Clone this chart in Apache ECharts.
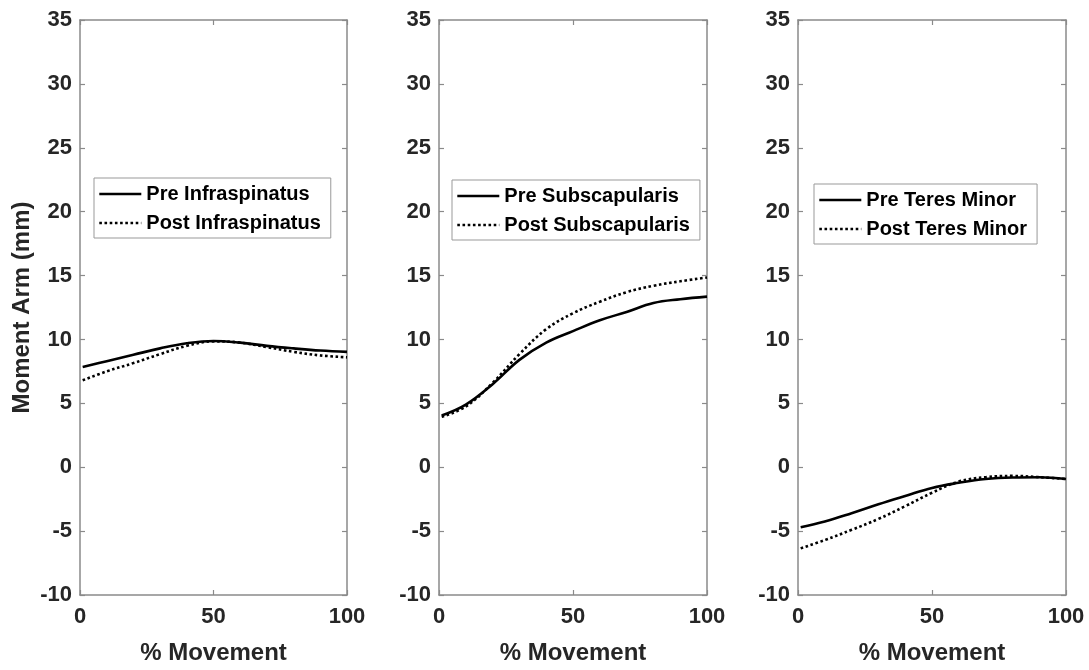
<!DOCTYPE html>
<html>
<head>
<meta charset="utf-8">
<script src="https://cdn.jsdelivr.net/npm/echarts@6/dist/echarts.min.js"></script>
<style>
html,body{margin:0;padding:0;background:#fff;}
#chart{width:1089px;height:670px;}
</style>
</head>
<body>
<div id="chart"></div>
<script>
// ---- data ----
const xMovement = [1, 10, 20, 30, 40, 50, 60, 70, 80, 90, 100];
const preInfraspinatus  = [7.85, 8.3, 8.8, 9.3, 9.7, 9.88, 9.75, 9.5, 9.3, 9.13, 9.03];
const postInfraspinatus = [6.8, 7.5, 8.15, 8.85, 9.5, 9.85, 9.75, 9.4, 9.03, 8.75, 8.6];
const preSubscapularis  = [4.05, 4.9, 6.5, 8.4, 9.75, 10.65, 11.5, 12.15, 12.85, 13.15, 13.35];
const postSubscapularis = [3.95, 4.75, 6.6, 8.85, 10.8, 12.05, 12.95, 13.7, 14.2, 14.55, 14.85];
const preTeresMinor     = [-4.7, -4.25, -3.6, -2.9, -2.25, -1.62, -1.22, -0.92, -0.8, -0.78, -0.92];
const postTeresMinor    = [-6.35, -5.7, -4.9, -4.05, -3.05, -2.0, -1.12, -0.78, -0.68, -0.78, -0.92];
const panelNames = [
  ['Pre Infraspinatus', 'Post Infraspinatus'],
  ['Pre Subscapularis', 'Post Subscapularis'],
  ['Pre Teres Minor', 'Post Teres Minor']
];
const panelData = [
  [preInfraspinatus, postInfraspinatus],
  [preSubscapularis, postSubscapularis],
  [preTeresMinor, postTeresMinor]
];
const xLabel = '% Movement';
const yLabel = 'Moment Arm (mm)';
const xRange = [0, 100, 50];
const yRange = [-10, 35, 5];

// ---- layout / style ----
const FONT = "'Liberation Sans', Arial, sans-serif";
const AX = '#8a8a8a';
const TXT = '#262626';
const gridLeft = [80, 439, 798];
const gridWidth = [267, 268, 268];
const legendPos = [[94, 178], [452, 180], [814, 184]];

const grids = [], xAxes = [], yAxes = [], series = [], legends = [];
for (let i = 0; i < 3; i++) {
  grids.push({left: gridLeft[i], top: 20, width: gridWidth[i], height: 581, show: false});
  const common = {
    type: 'value', gridIndex: i, splitLine: {show: false},
    axisLine: {show: true, onZero: false, lineStyle: {color: AX, width: 1.5}},
    axisTick: {show: true, inside: true, length: 5, lineStyle: {color: AX, width: 1.2}}
  };
  xAxes.push(Object.assign({}, common, {
    position: 'bottom', min: xRange[0], max: xRange[1], interval: xRange[2],
    axisLabel: {fontFamily: FONT, fontWeight: 'bold', fontSize: 22, color: TXT, margin: 11},
    name: xLabel, nameLocation: 'middle', nameGap: 46,
    nameTextStyle: {fontFamily: FONT, fontWeight: 'bold', fontSize: 24, color: TXT}
  }));
  xAxes.push(Object.assign({}, common, {
    position: 'top', min: xRange[0], max: xRange[1], interval: xRange[2],
    axisLabel: {show: false}
  }));
  const yLeft = Object.assign({}, common, {
    position: 'left', min: yRange[0], max: yRange[1], interval: yRange[2],
    axisLabel: {fontFamily: FONT, fontWeight: 'bold', fontSize: 22, color: TXT, margin: 8}
  });
  if (i === 0) {
    yLeft.name = yLabel;
    yLeft.nameLocation = 'middle';
    yLeft.nameGap = 46;
    yLeft.nameTextStyle = {fontFamily: FONT, fontWeight: 'bold', fontSize: 24, color: TXT};
  }
  yAxes.push(yLeft);
  yAxes.push(Object.assign({}, common, {
    position: 'right', min: yRange[0], max: yRange[1], interval: yRange[2],
    axisLabel: {show: false}
  }));
  const types = ['solid', 'dotted'];
  for (let k = 0; k < 2; k++) {
    series.push({
      type: 'line', name: panelNames[i][k], xAxisIndex: 2 * i, yAxisIndex: 2 * i,
      data: xMovement.map((x, j) => [x, panelData[i][k][j]]),
      smooth: 0.4, symbol: 'none', silent: true,
      lineStyle: {color: '#000', width: 2.6, type: types[k]},
      itemStyle: {color: '#000'}
    });
  }
  legends.push({
    data: panelNames[i], orient: 'vertical',
    left: legendPos[i][0], top: legendPos[i][1],
    itemWidth: 42, itemHeight: 14, itemGap: 5,
    padding: [4, 10, 3, 4],
    borderColor: '#999', borderWidth: 1, backgroundColor: '#fff',
    selectedMode: false,
    itemStyle: {color: 'rgba(0,0,0,0)', borderWidth: 0, opacity: 0},
    lineStyle: {width: 2.6},
    textStyle: {fontFamily: FONT, fontWeight: 'bold', fontSize: 20, color: '#000', lineHeight: 24}
  });
}

const chart = echarts.init(document.getElementById('chart'), null, {renderer: 'canvas'});
chart.setOption({
  animation: false,
  backgroundColor: '#fff',
  grid: grids, xAxis: xAxes, yAxis: yAxes, series: series, legend: legends
});
</script>
</body>
</html>
